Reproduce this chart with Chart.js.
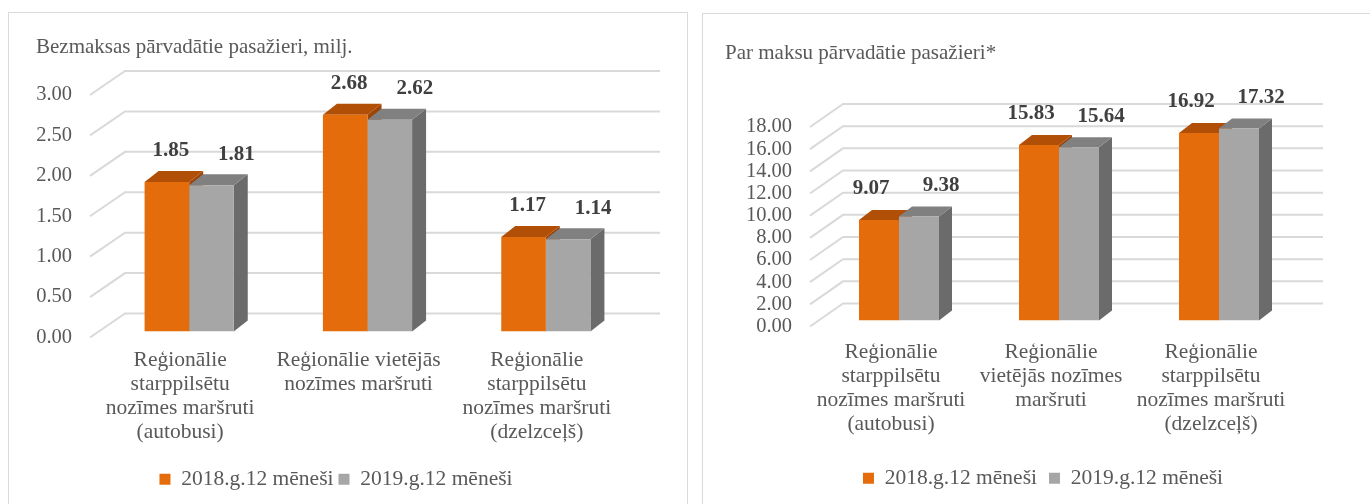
<!DOCTYPE html>
<html lang="lv">
<head>
<meta charset="utf-8">
<title>Pārvadātie pasažieri</title>
<script src="https://cdn.jsdelivr.net/npm/chart.js@4.4.1/dist/chart.umd.min.js"></script>
<style>
    html, body { margin: 0; padding: 0; background: #fff; overflow: hidden; }
    body { width: 1370px; height: 504px; position: relative; }
    .rams { position: absolute; border: 1px solid #d9d9d9; background: #fff; }
    #ramsBezmaksas { left: 8px; top: 12px; width: 678px; height: 520px; }
    #ramsParMaksu { left: 702px; top: 13px; width: 700px; height: 520px; }
    .rams canvas { position: absolute; left: 0; top: 0; }
</style>
</head>
<body>
<div class="rams" id="ramsBezmaksas"><canvas id="grafiksBezmaksas" width="678" height="491"></canvas></div>
<div class="rams" id="ramsParMaksu"><canvas id="grafiksParMaksu" width="680" height="490"></canvas></div>
<script>
// dati
const SERIJAS = ['2018.g.12 mēneši', '2019.g.12 mēneši'];

const KATEGORIJAS_BEZMAKSAS = [
    ['Reģionālie', 'starppilsētu', 'nozīmes maršruti', '(autobusi)'],
    ['Reģionālie vietējās', 'nozīmes maršruti'],
    ['Reģionālie', 'starppilsētu', 'nozīmes maršruti', '(dzelzceļš)']
];
const BEZMAKSAS_2018 = [1.85, 2.68, 1.17];
const BEZMAKSAS_2019 = [1.81, 2.62, 1.14];
const BEZMAKSAS_ASS = { max: 3, solis: 0.5 };

const KATEGORIJAS_PAR_MAKSU = [
    ['Reģionālie', 'starppilsētu', 'nozīmes maršruti', '(autobusi)'],
    ['Reģionālie', 'vietējās nozīmes', 'maršruti'],
    ['Reģionālie', 'starppilsētu', 'nozīmes maršruti', '(dzelzceļš)']
];
const PAR_MAKSU_2018 = [9.07, 15.83, 16.92];
const PAR_MAKSU_2019 = [9.38, 15.64, 17.32];
const PAR_MAKSU_ASS = { max: 18, solis: 2 };

const KRASAS = {
    ORANZA: '#e46c0a',
    ORANZA_AUGSA: '#b24f07',
    ORANZA_SANS: '#9c4506',
    PELEKA: '#a6a6a6',
    PELEKA_AUGSA: '#808080',
    PELEKA_SANS: '#6b6b6b',
    REZGIS: '#d9d9d9',
    TEKSTS: '#595959',
    ETIKETE: '#404040'
};
const FONTS = 'Liberation Serif, DejaVu Serif, serif';

// 3D izskats: sienas un stabiņu nobīdes
function telpa(cfg) {
    return {
        id: 'telpa',
        beforeDatasetsDraw(chart) {
            const { ctx, chartArea, scales } = chart;
            const y = scales.y;

            ctx.save();
            ctx.strokeStyle = KRASAS.REZGIS;
            ctx.lineWidth = 2;
            y.ticks.forEach(t => {
                const py = y.getPixelForValue(t.value);
                ctx.beginPath();
                ctx.moveTo(chartArea.left - 1, py);
                ctx.lineTo(chartArea.left + cfg.siena.x, py + cfg.siena.y);
                ctx.lineTo(chartArea.right + cfg.siena.x, py + cfg.siena.y);
                ctx.stroke();
            });
            ctx.restore();

            ctx.save();
            ctx.translate(cfg.nobide.x, cfg.nobide.y);
            const dx = cfg.dzilums.x;
            const dy = cfg.dzilums.y;
            chart.data.datasets.forEach((ds, i) => {
                const sans = i === 0 ? KRASAS.ORANZA_SANS : KRASAS.PELEKA_SANS;
                const augsa = i === 0 ? KRASAS.ORANZA_AUGSA : KRASAS.PELEKA_AUGSA;
                chart.getDatasetMeta(i).data.forEach(bar => {
                    const p = bar.getProps(['x', 'y', 'base', 'width'], true);
                    const x0 = p.x - p.width / 2;
                    const x1 = p.x + p.width / 2;

                    ctx.fillStyle = sans;
                    ctx.beginPath();
                    ctx.moveTo(x1, p.y);
                    ctx.lineTo(x1 + dx, p.y + dy);
                    ctx.lineTo(x1 + dx, p.base + dy);
                    ctx.lineTo(x1, p.base);
                    ctx.closePath();
                    ctx.fill();

                    ctx.fillStyle = augsa;
                    ctx.beginPath();
                    ctx.moveTo(x0, p.y);
                    ctx.lineTo(x1, p.y);
                    ctx.lineTo(x1 + dx, p.y + dy);
                    ctx.lineTo(x0 + dx, p.y + dy);
                    ctx.closePath();
                    ctx.fill();
                });
            });
        },
        afterDatasetsDraw(chart) {
            const ctx = chart.ctx;
            ctx.restore();

            ctx.save();
            ctx.font = `bold 21px ${FONTS}`;
            ctx.fillStyle = KRASAS.ETIKETE;
            ctx.textAlign = 'center';
            ctx.textBaseline = 'middle';
            chart.data.datasets.forEach((ds, i) => {
                chart.getDatasetMeta(i).data.forEach((bar, j) => {
                    const p = bar.getProps(['x', 'y'], true);
                    const px = p.x + cfg.nobide.x + cfg.etiketes[i];
                    const py = p.y + cfg.nobide.y - 31;
                    ctx.fillText(ds.data[j].toFixed(2), px, py);
                });
            });
            ctx.restore();
        }
    };
}

function izveidotGrafiku(id, cfg) {
    const el = document.getElementById(id);
    if (!el) return null;

    return new Chart(el.getContext('2d'), {
        type: 'bar',
        data: {
            labels: cfg.kategorijas,
            datasets: [
                { label: SERIJAS[0], data: cfg.dati2018, backgroundColor: KRASAS.ORANZA, borderWidth: 0 },
                { label: SERIJAS[1], data: cfg.dati2019, backgroundColor: KRASAS.PELEKA, borderWidth: 0 }
            ]
        },
        options: {
            responsive: false,
            animation: false,
            layout: { padding: { left: cfg.pad.left, right: cfg.pad.right, top: 0, bottom: cfg.pad.bottom } },
            datasets: { bar: { categoryPercentage: 0.5, barPercentage: 1 } },
            scales: {
                x: {
                    grid: { display: false, drawTicks: false },
                    border: { display: false },
                    ticks: {
                        color: KRASAS.TEKSTS,
                        font: { family: FONTS, size: 21.5, lineHeight: 1.12 },
                        padding: cfg.xAtstarpe,
                        autoSkip: false,
                        maxRotation: 0
                    },
                    afterFit: s => { s.height = cfg.xAugstums; }
                },
                y: {
                    min: 0,
                    max: cfg.ass.max,
                    grid: { display: false, drawTicks: false },
                    border: { display: false },
                    ticks: {
                        stepSize: cfg.ass.solis,
                        autoSkip: false,
                        padding: 19,
                        color: KRASAS.TEKSTS,
                        font: { family: FONTS, size: 20.5 },
                        callback: v => Number(v).toFixed(2)
                    },
                    afterFit: s => { s.width = cfg.yPlatums; }
                },
                labaMala: {
                    position: 'right',
                    display: true,
                    grid: { display: false, drawTicks: false },
                    border: { display: false },
                    ticks: { display: false },
                    afterFit: s => { s.width = cfg.labaMala; }
                }
            },
            plugins: {
                title: {
                    display: true,
                    text: cfg.virsraksts,
                    align: 'start',
                    color: KRASAS.TEKSTS,
                    font: { family: FONTS, size: 21, weight: 'normal', lineHeight: 1.2 },
                    padding: cfg.virsrakstaAtstarpe
                },
                legend: {
                    position: 'bottom',
                    labels: {
                        boxWidth: 11,
                        boxHeight: 11,
                        padding: cfg.legendasAtstarpe,
                        color: KRASAS.TEKSTS,
                        font: { family: FONTS, size: 21.5 }
                    }
                },
                tooltip: { enabled: false }
            }
        },
        plugins: [telpa(cfg)]
    });
}

izveidotGrafiku('grafiksBezmaksas', {
    virsraksts: 'Bezmaksas pārvadātie pasažieri, milj.',
    kategorijas: KATEGORIJAS_BEZMAKSAS,
    dati2018: BEZMAKSAS_2018,
    dati2019: BEZMAKSAS_2019,
    ass: BEZMAKSAS_ASS,
    pad: { left: 27, right: 51, bottom: 4 },
    yPlatums: 55,
    labaMala: 10,
    xAugstums: 126,
    xAtstarpe: 11,
    legendasAtstarpe: 5,
    virsrakstaAtstarpe: { top: 21.4, bottom: 35.4 },
    siena: { x: 34, y: -24 },
    nobide: { x: 9, y: -6 },
    dzilums: { x: 14, y: -11 },
    etiketes: [4, 25]
});

izveidotGrafiku('grafiksParMaksu', {
    virsraksts: 'Par maksu pārvadātie pasažieri*',
    kategorijas: KATEGORIJAS_PAR_MAKSU,
    dati2018: PAR_MAKSU_2018,
    dati2019: PAR_MAKSU_2019,
    ass: PAR_MAKSU_ASS,
    pad: { left: 22, right: 22, bottom: 5 },
    yPlatums: 86,
    labaMala: 70,
    xAugstums: 129,
    xAtstarpe: 14,
    legendasAtstarpe: 12,
    virsrakstaAtstarpe: { top: 26.4, bottom: 61.4 },
    siena: { x: 32, y: -23 },
    nobide: { x: 8, y: -6 },
    dzilums: { x: 13, y: -10 },
    etiketes: [-8, 22]
});
</script>
</body>
</html>
